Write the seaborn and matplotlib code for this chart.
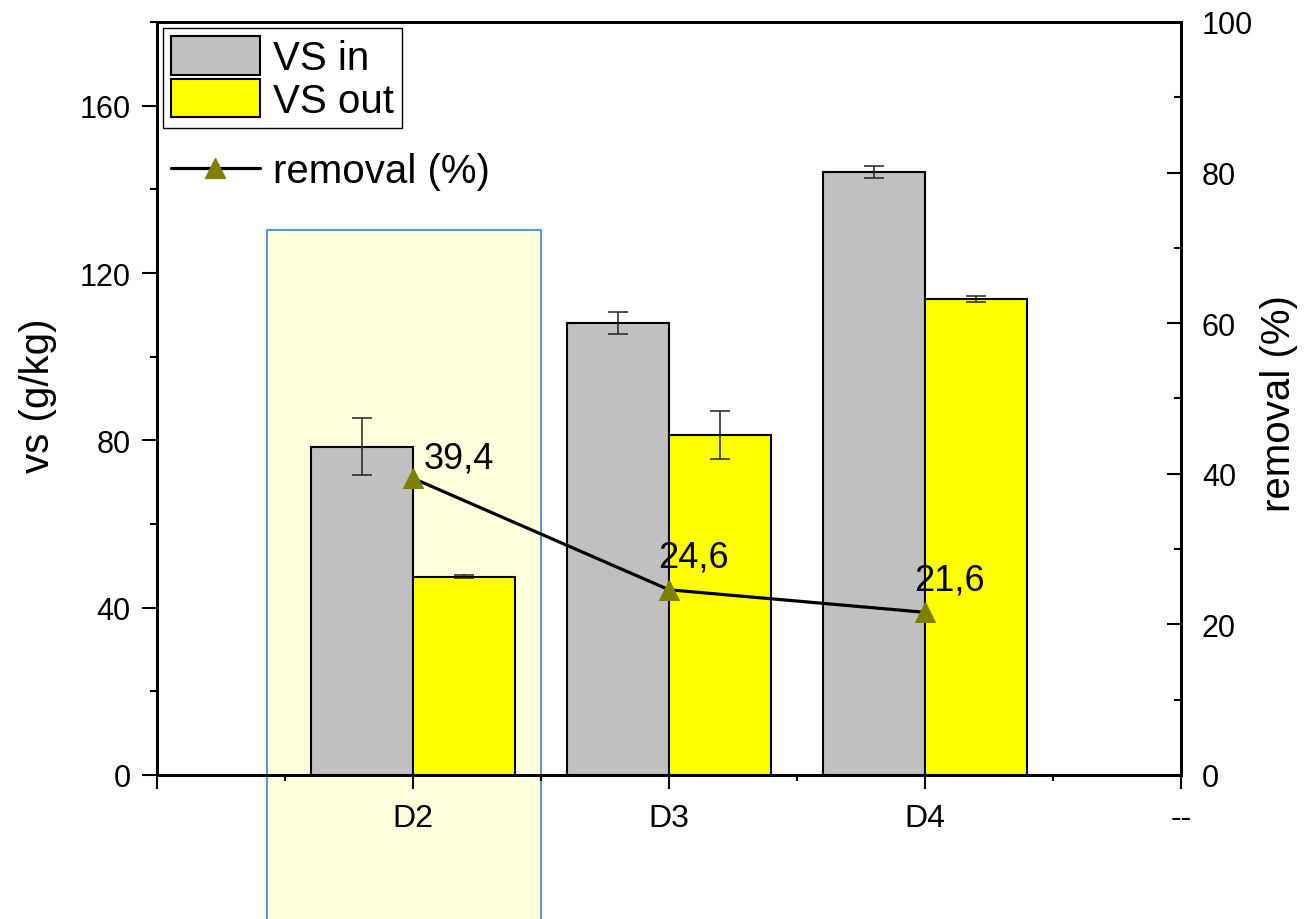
import numpy as np
import pandas as pd
import matplotlib
matplotlib.use("Agg")
import matplotlib.pyplot as plt
import seaborn as sns
from matplotlib.patches import Rectangle, Patch
from matplotlib.lines import Line2D
from matplotlib.ticker import MultipleLocator, FixedLocator

# ---- data ----
categories = ["D2", "D3", "D4"]
positions = [1, 2, 3]
vs_in = [78.5, 108.0, 144.2]
vs_in_err = [6.8, 2.6, 1.4]
vs_out = [47.4, 81.3, 113.8]
vs_out_err = [0.4, 5.8, 0.7]
removal = [39.4, 24.6, 21.6]
removal_labels = ["39,4", "24,6", "21,6"]
x_tick_pos = [0, 1, 2, 3, 4]
x_tick_labels = ["", "D2", "D3", "D4", "--"]

sns.set_theme(style="ticks")
plt.rcParams['font.family'] = ['Liberation Sans', 'DejaVu Sans']
plt.rcParams.update({
    "text.color": "black", "axes.labelcolor": "black",
    "xtick.color": "black", "ytick.color": "black",
    "axes.edgecolor": "black",
})

W, H = 1307, 920
fig = plt.figure(figsize=(W / 100, H / 100), dpi=100)
L, R, T, B = 157, 1181, 23, 776
ax = fig.add_axes([L / W, 1 - B / H, (R - L) / W, (B - T) / H])

df = pd.DataFrame({
    "x": positions * 2,
    "value": vs_in + vs_out,
    "series": ["VS in"] * 3 + ["VS out"] * 3,
})
palette = {"VS in": "#C0C0C0", "VS out": "#FFFF00"}
sns.barplot(data=df, x="x", y="value", hue="series", native_scale=True,
            palette=palette, edgecolor="black", linewidth=1.5, ax=ax,
            legend=False, errorbar=None, width=0.8, zorder=2, saturation=1)

pos = np.array(positions, dtype=float)
ax.errorbar(pos - 0.2, vs_in, yerr=vs_in_err, fmt="none", ecolor="#222222",
            elinewidth=1.1, capsize=7, capthick=1.1, zorder=3)
ax.errorbar(pos + 0.2, vs_out, yerr=vs_out_err, fmt="none", ecolor="#222222",
            elinewidth=1.1, capsize=7, capthick=1.1, zorder=3)

# highlight box around D2
rect = Rectangle((0.43, -45), 1.5 - 0.43, 130.3 + 45, facecolor="#FFFFDC",
                 edgecolor="#5B9BD5", linewidth=1.5, clip_on=False, zorder=0.2)
ax.add_patch(rect)

ax.set_xlim(0, 4)
ax.set_ylim(0, 180)
ax.xaxis.set_major_locator(FixedLocator(x_tick_pos))
ax.set_xticklabels(x_tick_labels)
ax.xaxis.set_minor_locator(FixedLocator([0.5, 1.5, 2.5, 3.5]))
ax.yaxis.set_major_locator(MultipleLocator(40))
ax.yaxis.set_minor_locator(MultipleLocator(20))
ax.set_xlabel("")
ax.set_ylabel("vs (g/kg)", fontsize=29)
ax.yaxis.set_label_coords(-0.098, 0.505)
ax.tick_params(axis="x", which="major", direction="out", length=10, width=1.5,
               labelsize=23, pad=10)
ax.tick_params(axis="x", which="minor", direction="out", length=4.5, width=1.5)
ax.tick_params(axis="y", which="major", direction="out", length=11, width=1.5,
               labelsize=22, pad=8)
ax.tick_params(axis="y", which="minor", direction="out", length=5, width=1.5)
ax.tick_params(top=False, right=False, which="both")
for s in ax.spines.values():
    s.set_linewidth(2)
    s.set_color("black")

# removal line on right axis
ax2 = ax.twinx()
sns.lineplot(x=positions, y=removal, ax=ax2, color="black", linewidth=2.3,
             marker="^", markersize=15, markerfacecolor="#808000",
             markeredgecolor="#808000", zorder=5)
ax2.set_ylim(0, 100)
ax2.yaxis.set_major_locator(MultipleLocator(20))
ax2.yaxis.set_minor_locator(MultipleLocator(10))
ax2.tick_params(axis="y", which="major", direction="in", length=10, width=1.5,
                labelsize=22, pad=15)
ax2.tick_params(axis="y", which="minor", direction="in", length=5, width=1.5)
ax2.set_ylabel("removal (%)", fontsize=29, rotation=90)
ax2.yaxis.set_label_coords(1.077, 0.495)
for s in ax2.spines.values():
    s.set_linewidth(2)
    s.set_color("black")

offsets = [(8, 8), (-8, 16.5), (-8, 16.5)]
for xv, yv, lab, off in zip(positions, removal, removal_labels, offsets):
    ax2.annotate(lab, xy=(xv, yv), xytext=off, textcoords="offset points",
                 ha="left", va="baseline", fontsize=26)

# legends
fs = 29
bar_handles = [Patch(facecolor=palette["VS in"], edgecolor="black", linewidth=1.5),
               Patch(facecolor=palette["VS out"], edgecolor="black", linewidth=1.5)]
leg1 = ax2.legend(bar_handles, ["VS in", "VS out"], loc="upper left",
                  fontsize=fs, frameon=True, fancybox=False, framealpha=1,
                  edgecolor="black", handlelength=2.2, handleheight=1.09,
                  labelspacing=0.05, borderpad=0.2, handletextpad=0.33,
                  borderaxespad=0.15)
leg1.get_frame().set_linewidth(1.0)
ax2.add_artist(leg1)
line_handle = Line2D([0], [0], color="black", linewidth=2.3, marker="^",
                     markersize=15, markerfacecolor="#808000",
                     markeredgecolor="#808000")
ax2.legend([line_handle], ["removal (%)"], loc="center left",
           bbox_to_anchor=((171 - L) / (R - L), (B - 172) / (B - T)),
           fontsize=fs, frameon=False, handlelength=2.2, handletextpad=0.33,
           borderpad=0, borderaxespad=0)

fig.savefig("out.png", dpi=100)
